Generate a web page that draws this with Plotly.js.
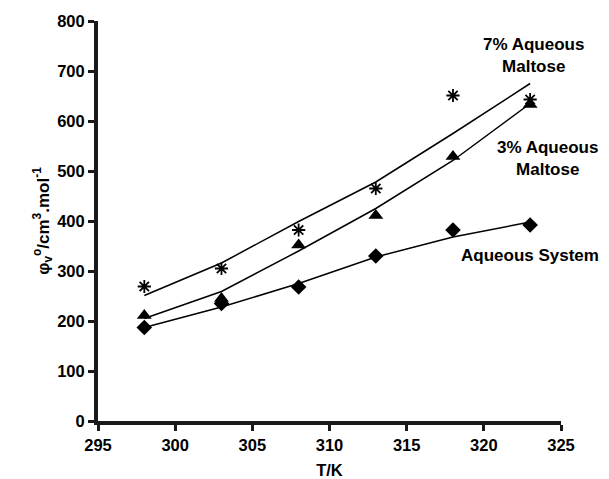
<!DOCTYPE html>
<html><head><meta charset="utf-8">
<script src="https://cdn.plot.ly/plotly-3.0.1.min.js"></script>
<style>body{margin:0;padding:0;background:#fff}#chart{width:609px;height:479px}</style>
</head><body><div id="chart"></div>
<script>
const temps = [298, 303, 308, 313, 318, 323];
const aqueousPts = [187, 235, 268, 330, 382, 392];
const maltose3Pts = [211, 245, 352, 411, 529, 633];
const maltose7Pts = [269, 305, 382, 465, 651, 643];
const aqueousFit = [187, 228, 275, 328, 368, 398];
const maltose3Fit = [205, 259, 340, 425, 521, 635];
const maltose7Fit = [251, 316, 399, 478, 575, 675];
const xTicks = [295, 300, 305, 310, 315, 320, 325];
const yTicks = [0, 100, 200, 300, 400, 500, 600, 700, 800];

function mkFont(s) { return {family: 'Arial', size: s, color: 'black', weight: 'bold'}; }
const lineStyle = {color: 'black', width: 1.5};
const traces = [
  {x: temps, y: aqueousFit, mode: 'lines', line: lineStyle, hoverinfo: 'skip'},
  {x: temps, y: maltose3Fit, mode: 'lines', line: lineStyle, hoverinfo: 'skip'},
  {x: temps, y: maltose7Fit, mode: 'lines', line: lineStyle, hoverinfo: 'skip'},
  {x: temps, y: aqueousPts, mode: 'markers', marker: {symbol: 'diamond', size: 12, color: 'black'}},
  {x: temps, y: maltose3Pts, mode: 'markers', marker: {symbol: 'triangle-up', size: 13, color: 'black'}},
  {x: temps, y: maltose7Pts, mode: 'markers', marker: {symbol: 'asterisk-open', size: 11, color: 'black', line: {color: 'black', width: 1.8}}}
];
const x0 = 98, x1 = 561, y0 = 420.7, y1 = 20.7;
function ann(px, py, text) {
  return {xref: 'x', yref: 'y', x: 295 + (px - x0) / (x1 - x0) * 30, y: (y0 - py) / (y0 - y1) * 800,
    text: text, showarrow: false, font: mkFont(17), align: 'center'};
}
const axisColor = '#1a1a1a';
const layout = {
  width: 609, height: 479,
  margin: {l: 98, r: 48, t: 21, b: 58},
  showlegend: false,
  font: mkFont(16),
  xaxis: {range: [295, 325], tickvals: xTicks,
    showgrid: false, zeroline: false, showline: true, linecolor: axisColor, linewidth: 4,
    ticks: 'outside', ticklen: 6, tickwidth: 3, tickcolor: axisColor, tickfont: mkFont(16.5),
    title: {text: 'T/K', font: mkFont(16.5)}},
  yaxis: {range: [0, 800], tickvals: yTicks,
    showgrid: false, zeroline: false, showline: true, linecolor: axisColor, linewidth: 4,
    ticks: 'outside', ticklen: 6, tickwidth: 3, tickcolor: axisColor, tickfont: mkFont(16.5),
    title: {text: 'φ<sub>v</sub><sup>o</sup>/cm<sup>3</sup>.mol<sup>-1</sup>', font: mkFont(17)}},
  annotations: [
    ann(533, 55, '7% Aqueous<br>Maltose'),
    ann(547, 158, '3% Aqueous<br>Maltose'),
    ann(530, 255, 'Aqueous System')
  ]
};
Plotly.newPlot('chart', traces, layout, {displayModeBar: false});
</script>
</body></html>
